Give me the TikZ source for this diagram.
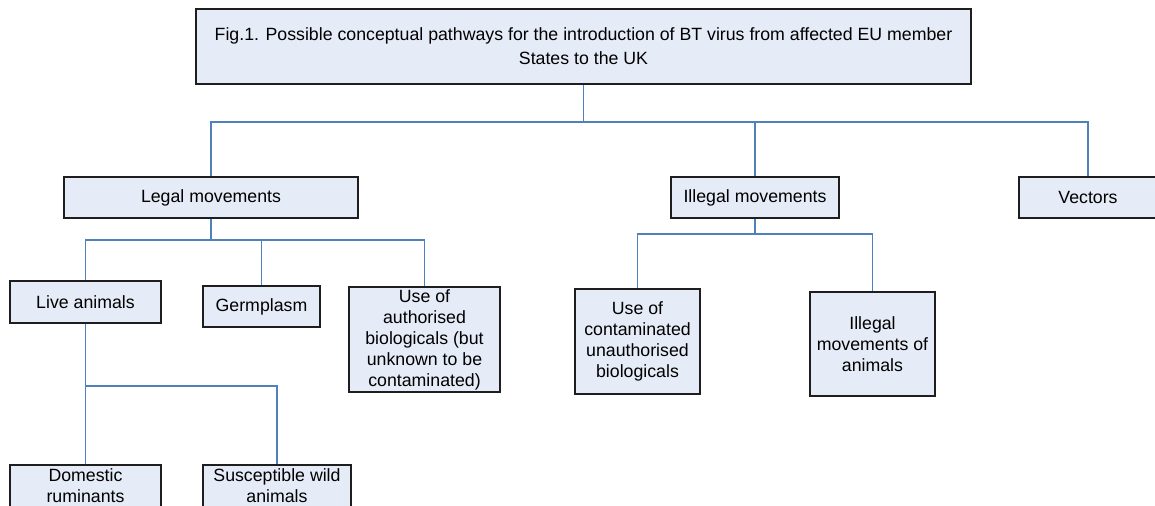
\documentclass[tikz,border=0pt]{standalone}
\usepackage{fontspec}
\setmainfont{Liberation Sans}
\definecolor{boxfill}{RGB}{230,236,247}
\definecolor{linkblue}{RGB}{79,129,189}
\definecolor{boxline}{RGB}{30,30,30}
\tikzset{
  bx/.style={draw=boxline, line width=0.8pt, fill=boxfill, inner sep=0pt, align=center,
    font=\fontsize{13.3}{15.75}\selectfont},
  conn/.style={draw=linkblue, line width=0.8pt}
}
\begin{document}
\begin{tikzpicture}[x=0.75pt, y=-0.75pt]
\useasboundingbox (0,0) rectangle (1155,506);
\clip (0,0) rectangle (1155,506);
\fill[white] (0,0) rectangle (1155,506);
% boxes
\node[bx, minimum width=581.25pt, minimum height=56.25pt, font=\fontsize{13.3}{18}\selectfont] (top) at (583.5,46.5)
  {Fig.1. Possible conceptual pathways for the introduction of BT virus from affected EU member\\States to the UK};
\node[bx, minimum width=220.5pt, minimum height=30.75pt] (legal) at (211,197.5) {Legal movements};
\node[bx, minimum width=126pt, minimum height=30.75pt] (illegal) at (755,197.5) {Illegal movements};
\node[bx, minimum width=103.5pt, minimum height=30.75pt] (vectors) at (1088,197.5) {Vectors};
\node[bx, minimum width=113.25pt, minimum height=31.5pt] (live) at (85.5,302) {Live animals};
\node[bx, minimum width=87.75pt, minimum height=30.75pt] (germ) at (261.5,306.5) {Germplasm};
\node[bx, minimum width=113.25pt, minimum height=78.75pt] (auth) at (424.5,339.5)
  {Use of\\authorised\\biologicals (but\\unknown to be\\contaminated)};
\node[bx, minimum width=93.75pt, minimum height=78.75pt] (contam) at (637.5,341.5)
  {Use of\\contaminated\\unauthorised\\biologicals};
\node[bx, minimum width=93.75pt, minimum height=78pt] (illanim) at (872.5,344)
  {Illegal\\movements of\\animals};
\node[bx, minimum width=113.25pt, minimum height=31.5pt] (dom) at (85.5,486) {Domestic\\ruminants};
\node[bx, minimum width=111pt, minimum height=31.5pt] (wild) at (277,486) {Susceptible wild\\animals};
% branch points
\coordinate (b1) at (583.5,122);
\coordinate (b2) at (211,240);
\coordinate (b3) at (755,234);
\coordinate (b4) at (85.5,386);
% connectors
\draw[conn] (top.south) -- (b1);
\draw[conn] (b1) -| (legal.north);
\draw[conn] (b1) -| (illegal.north);
\draw[conn] (b1) -| (vectors.north);
\draw[conn] (legal.south) -- (b2);
\draw[conn] (b2) -| (live.north);
\draw[conn] (b2) -| (germ.north);
\draw[conn] (b2) -| (auth.north);
\draw[conn] (illegal.south) -- (b3);
\draw[conn] (b3) -| (contam.north);
\draw[conn] (b3) -| (illanim.north);
\draw[conn] (live.south) -- (b4);
\draw[conn] (b4) -- (dom.north);
\draw[conn] (b4) -| (wild.north);
\end{tikzpicture}
\end{document}
